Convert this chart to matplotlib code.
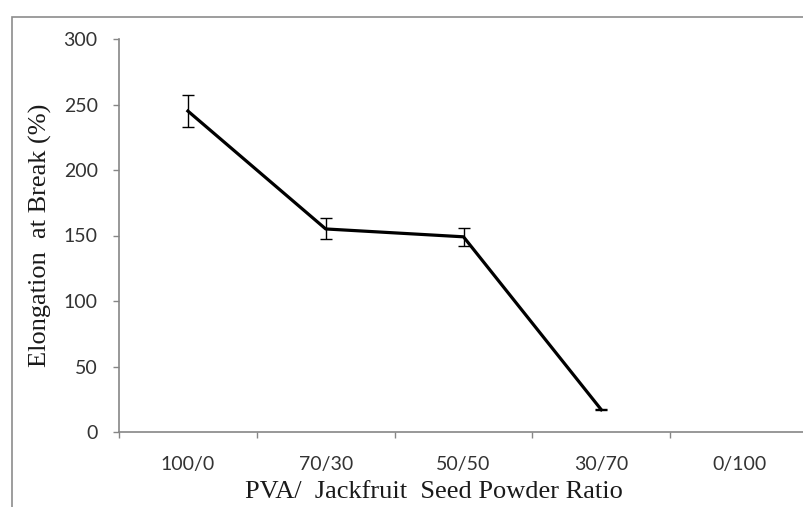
import numpy as np
import matplotlib.pyplot as plt
from matplotlib.patches import Rectangle

# data
ratios = ['100/0', '70/30', '50/50', '30/70', '0/100']
elongation = [245, 155, 149, 17, np.nan]   # no value for 0/100
elong_err = [12, 8, 7, 0.5, np.nan]
y_ticks = [0, 50, 100, 150, 200, 250, 300]

fig = plt.figure(figsize=(8.04, 5.07), dpi=100)

# outer frame of the pasted chart (only top and left edges visible)
fig.patches.append(Rectangle((12 / 804, -0.1), 1.2, (507 - 17) / 507 + 0.1,
                             transform=fig.transFigure, fill=False,
                             edgecolor='#8c8c8c', linewidth=1.2))

ax = fig.add_axes([119 / 804, 75 / 507, 689 / 804, 393 / 507])
x = np.arange(len(ratios))

ax.errorbar(x, elongation, yerr=elong_err, color='black', linewidth=2.3,
            ecolor='black', elinewidth=1, capsize=4.5, capthick=1)

ax.set_xlim(-0.5, len(ratios) - 0.5)
ax.set_ylim(0, 300)

# labels at category centres, tick marks at the boundaries
ax.set_xticks(x)
ax.set_xticklabels(ratios)
ax.set_xticks(np.arange(len(ratios) + 1) - 0.5, minor=True)
ax.tick_params(axis='x', which='major', length=0, pad=17)
ax.tick_params(axis='x', which='minor', length=4.3, color='#868686', width=1)
ax.set_yticks(y_ticks)
ax.tick_params(axis='y', length=4.3, color='#868686', width=1, pad=11)

for lab in ax.get_xticklabels() + ax.get_yticklabels():
    lab.set_fontfamily('Lato')
    lab.set_fontsize(14)
    lab.set_color('#333333')

for s in ['top', 'right']:
    ax.spines[s].set_visible(False)
for s in ['left', 'bottom']:
    ax.spines[s].set_color('#868686')
    ax.spines[s].set_linewidth(1.2)

fig.text(40 / 804, 1 - 235 / 507, 'Elongation  at Break (%)',
         fontfamily='Liberation Serif', fontsize=19, color='#1a1a1a',
         rotation=90, ha='center', va='center')
fig.text(434 / 804, 1 - 492 / 507, 'PVA/  Jackfruit  Seed Powder Ratio',
         fontfamily='Liberation Serif', fontsize=19, color='#1a1a1a',
         ha='center', va='center')

plt.savefig('out.png', dpi=100)
